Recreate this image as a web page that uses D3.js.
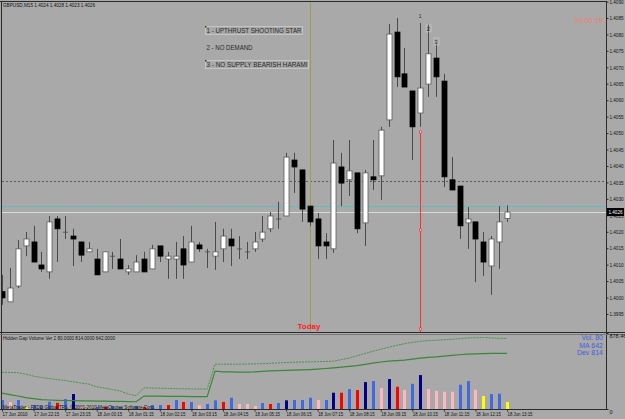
<!DOCTYPE html>
<html>
<head>
<meta charset="utf-8">
<script src="https://cdn.jsdelivr.net/npm/d3@7"></script>
<style>
body { margin: 0; background: #a9a9a9; }
svg { display: block; font-family: "Liberation Sans", Arial, sans-serif; }
</style>
</head>
<body>
<div id="chart"></div>
<script>
// GBPUSD M15, 17 Jun 21:15 -> 18 Jun 13:15 (65 bars)
var opens = [1.40018,1.39987,1.40035,1.40157,1.40169,1.40099,1.40078,1.40239,1.40199,1.40187,
  1.40169,1.40139,1.40117,1.40078,1.40126,1.40117,1.40078,1.40078,1.40117,1.40087,
  1.40157,1.40117,1.40117,1.40148,1.40108,1.40160,1.40139,1.40126,1.40148,1.40178,
  1.40148,1.40139,1.40148,1.40178,1.40209,1.40239,1.40248,1.40418,1.40388,1.40278,
  1.40239,1.40169,1.40148,1.40397,1.40358,1.40379,1.40227,1.40367,1.40370,1.40540,
  1.40807,1.40680,1.40628,1.40561,1.40649,1.40728,1.40658,1.40358,1.40339,1.40227,
  1.40230,1.40169,1.40096,1.40169,1.40240];
var highs = [1.40069,1.40090,1.40175,1.40199,1.40218,1.40139,1.40248,1.40248,1.40248,1.40209,
  1.40169,1.40169,1.40148,1.40139,1.40139,1.40178,1.40099,1.40129,1.40139,1.40160,
  1.40157,1.40139,1.40169,1.40187,1.40218,1.40169,1.40148,1.40230,1.40209,1.40209,
  1.40187,1.40169,1.40199,1.40248,1.40260,1.40291,1.40440,1.40440,1.40388,1.40278,
  1.40257,1.40196,1.40479,1.40440,1.40479,1.40379,1.40388,1.40479,1.40519,1.40832,
  1.40850,1.40759,1.40628,1.40835,1.40832,1.40771,1.40680,1.40427,1.40339,1.40275,
  1.40230,1.40199,1.40187,1.40278,1.40280];
var lows = [1.39978,1.39987,1.40029,1.40126,1.40108,1.40078,1.40057,1.40108,1.40178,1.40096,
  1.40108,1.40139,1.40069,1.40078,1.40087,1.40087,1.40069,1.40078,1.40078,1.40087,
  1.40108,1.40057,1.40057,1.40057,1.40108,1.40139,1.40090,1.40084,1.40108,1.40096,
  1.40117,1.40117,1.40139,1.40169,1.40199,1.40209,1.40248,1.40318,1.40230,1.40218,
  1.40117,1.40117,1.40136,1.40278,1.40309,1.40196,1.40157,1.40327,1.40297,1.40519,
  1.40640,1.40640,1.40418,1.40519,1.40610,1.40610,1.40336,1.40327,1.40178,1.40148,
  1.40047,1.40066,1.40008,1.40087,1.40230];
var closes = [1.39999,1.40029,1.40148,1.40178,1.40108,1.40087,1.40230,1.40209,1.40200,1.40178,
  1.40129,1.40148,1.40069,1.40139,1.40127,1.40087,1.40087,1.40108,1.40078,1.40148,
  1.40126,1.40126,1.40126,1.40099,1.40169,1.40148,1.40140,1.40139,1.40187,1.40157,
  1.40149,1.40140,1.40169,1.40199,1.40248,1.40240,1.40427,1.40397,1.40269,1.40230,
  1.40157,1.40157,1.40409,1.40348,1.40385,1.40209,1.40379,1.40358,1.40509,1.40801,
  1.40671,1.40640,1.40519,1.40637,1.40741,1.40671,1.40367,1.40327,1.40218,1.40239,
  1.40178,1.40108,1.40178,1.40230,1.40260];

var volumes = [104,80,104,20,46,35,84,72,115,173,23,12,23,23,35,23,12,35,23,46,
  46,46,104,81,81,42,58,100,81,130,58,58,35,69,58,69,100,104,104,130,
  104,104,188,188,230,219,311,323,242,346,257,219,291,392,230,211,199,199,280,323,
  222,150,173,177,80];
// B normal, P low, R high, N climax, Y lowest
var volTypes = ["B","P","B","Y","B","B","B","R","B","N","P","Y","B","R","B","B","P","B","R","B",
  "B","R","B","R","B","P","B","B","R","B","P","P","P","B","R","B","N","B","B","B",
  "P","B","N","R","B","R","N","B","P","N","R","P","B","N","P","P","P","P","B","B",
  "P","Y","B","B","Y"];
var volMA = [184,167,150,132,121,109,104,100,98,96,95,93,92,90,88,87,85,84,150,149,
  148,147,146,145,144,143,142,438,430,428,426,427,430,436,440,444,447,450,453,456,
  461,468,476,485,493,501,515,530,543,553,559,565,577,588,597,603,612,620,627,634,
  637,640,642,642,642];
var volDev = [423,423,420,403,380,363,352,340,330,315,300,288,257,242,225,207,173,155,245,242,
  240,238,236,234,232,231,230,518,518,518,518,520,522,524,528,533,537,540,543,545,
  547,550,553,570,588,615,642,667,691,714,735,755,770,783,790,795,800,806,813,821,
  824,826,821,817,814];

var priceTicks = d3.range(0, 20).map(function(i) { return +(1.4090 - i * 0.0005).toFixed(4); });
var timeTicks = d3.range(0, 65, 4);
var timeLabels = ["17 Jun 2010","17 Jun 22:15","17 Jun 23:15","18 Jun 00:15","18 Jun 01:15",
  "18 Jun 02:15","18 Jun 03:15","18 Jun 04:15","18 Jun 05:15","18 Jun 06:15","18 Jun 07:15",
  "18 Jun 08:15","18 Jun 09:15","18 Jun 10:15","18 Jun 11:15","18 Jun 12:15","18 Jun 13:15"];
var levelPrices = [1.40354, 1.40278, 1.40260];
var patternLabels = ["1 - UPTHRUST SHOOTING STAR", "2 - NO DEMAND", "3 - NO SUPPLY BEARISH HARAMI"];
var signalBars = [53, 54, 55];
var todayBar = 39;

var w = 625, h = 419;
var svg = d3.select("#chart").append("svg").attr("width", w).attr("height", h);
svg.append("rect").attr("width", w).attr("height", h).attr("fill", "#a9a9a9");

var x = d3.scaleLinear().domain([0, 64]).range([2, 507]);
var y = d3.scaleLinear().domain([1.3995, 1.4090]).range([314, 1.5]);
var yv = d3.scaleLinear().domain([0, 878.46]).range([409, 333]);
var volColor = d3.scaleOrdinal().domain(["B","P","R","N","Y"])
  .range(["#4169e1", "#ffb6c1", "#ff0000", "#00008b", "#ffff00"]);

svg.append("clipPath").attr("id", "main").append("rect")
  .attr("x", 2).attr("y", 2).attr("width", 604).attr("height", 330);
svg.append("clipPath").attr("id", "ind").append("rect")
  .attr("x", 2).attr("y", 335).attr("width", 604).attr("height", 74);

var main = svg.append("g").attr("clip-path", "url(#main)");

// horizontal levels
var levelStyle = [["#5a5a5a", "2,2"], ["#3cc8c8", "2,1"], ["#d8d8d8", null]];
levelPrices.forEach(function(p, i) {
  main.append("line")
    .attr("x1", 2).attr("x2", 606)
    .attr("y1", Math.round(y(p)) + 0.5).attr("y2", Math.round(y(p)) + 0.5)
    .attr("stroke", levelStyle[i][0])
    .attr("stroke-dasharray", levelStyle[i][1]);
});

// today separator
main.append("line")
  .attr("x1", Math.round(x(todayBar)) + 0.5).attr("x2", Math.round(x(todayBar)) + 0.5)
  .attr("y1", 2).attr("y2", 332).attr("stroke", "#9c9c4c");

// text boxes
var boxes = main.append("g");
var boxW = [97, 48, 103];
patternLabels.forEach(function(t, i) {
  var by = 26 + i * 17;
  if (i != 1) {
    boxes.append("rect").attr("x", 205.5).attr("y", by + 0.5)
      .attr("width", boxW[i]).attr("height", 8)
      .attr("fill", "none").attr("stroke", "#c4c4c4");
    boxes.append("rect").attr("x", 205).attr("y", by).attr("width", 1.5).attr("height", 1.5).attr("fill", "#333");
  }
  boxes.append("text").attr("x", 206.5).attr("y", by + 7)
    .attr("font-size", "7.5px").attr("fill", "#2a2a2a")
    .attr("textLength", boxW[i] - 2).attr("lengthAdjust", "spacingAndGlyphs")
    .text(t);
});

// red signal line
var rx = Math.round(x(signalBars[0])) + 0.5;
main.append("line").attr("x1", rx).attr("x2", rx).attr("y1", 132).attr("y2", 332)
  .attr("stroke", "#ff3030");
[132, 230, 329].forEach(function(py) {
  main.append("rect").attr("x", rx - 1).attr("y", py - 1).attr("width", 2).attr("height", 2)
    .attr("fill", "#fff").attr("stroke", "#ff3030").attr("stroke-width", 0.7);
});

// candles
var idx = d3.range(opens.length);
var candles = main.selectAll("g.candle").data(idx).enter().append("g").attr("class", "candle");
candles.append("line")
  .attr("x1", function(i) { return Math.round(x(i)) + 0.5; })
  .attr("x2", function(i) { return Math.round(x(i)) + 0.5; })
  .attr("y1", function(i) { return y(highs[i]); })
  .attr("y2", function(i) { return y(lows[i]); })
  .attr("stroke", "#4a4a4a");
candles.append("rect")
  .attr("x", function(i) { return Math.round(x(i)) - 2; })
  .attr("y", function(i) { return y(Math.max(opens[i], closes[i])); })
  .attr("width", 5)
  .attr("height", function(i) { return Math.max(0.8, Math.abs(y(opens[i]) - y(closes[i]))); })
  .attr("fill", function(i) {
    if (Math.abs(opens[i] - closes[i]) < 0.00003) return "#4a4a4a";
    return closes[i] > opens[i] ? "#ffffff" : "#000000";
  })
  .attr("stroke", function(i) {
    if (Math.abs(opens[i] - closes[i]) < 0.00003) return "none";
    return closes[i] > opens[i] ? "#5a5a5a" : "#000";
  })
  .attr("stroke-width", 0.8);

// signal numbers sit on the wick tops
var numShift = [-5, 7, 0];
signalBars.forEach(function(b, i) {
  var tx = x(b), ty = y(highs[b]) + numShift[i];
  if (i > 0) {
    main.append("rect").attr("x", tx - 2).attr("y", ty - 6).attr("width", 5).attr("height", 7)
      .attr("fill", "none").attr("stroke", "#c8c8c8").attr("stroke-width", 0.7);
  }
  main.append("text").attr("x", tx).attr("y", ty).attr("text-anchor", "middle")
    .attr("font-size", "6px").attr("fill", "#3a3a3a").text(i + 1);
});

main.append("text").attr("x", 309).attr("y", 329).attr("text-anchor", "middle")
  .attr("font-size", "8px").attr("font-weight", "bold").attr("fill", "#ff2020").text("Today");

// title and timer
svg.append("text").attr("x", 3).attr("y", 7).attr("font-size", "5.5px").attr("fill", "#111")
  .attr("textLength", 92).attr("lengthAdjust", "spacingAndGlyphs")
  .text("GBPUSD,M15  1.4024 1.4028 1.4023 1.4026");
svg.append("text").attr("x", 574).attr("y", 23).attr("font-size", "7px").attr("fill", "#f2806c")
  .attr("textLength", 29).attr("lengthAdjust", "spacingAndGlyphs").text("00:06:15");

// indicator panel
var ind = svg.append("g").attr("clip-path", "url(#ind)");
ind.selectAll("rect.vol").data(idx).enter().append("rect").attr("class", "vol")
  .attr("x", function(i) { return Math.round(x(i)) - 1; })
  .attr("y", function(i) { return yv(volumes[i]); })
  .attr("width", 3)
  .attr("height", function(i) { return yv(0) - yv(volumes[i]); })
  .attr("fill", function(i) { return volColor(volTypes[i]); });

var devLine = d3.line().x(function(d, i) { return x(i); }).y(function(d) { return yv(d); });
ind.append("path").attr("d", devLine(volDev)).attr("fill", "none")
  .attr("stroke", "#3f8f3f").attr("stroke-width", 0.9).attr("stroke-dasharray", "2,1");
ind.append("path").attr("d", devLine(volMA)).attr("fill", "none")
  .attr("stroke", "#3a863a").attr("stroke-width", 1.2);

svg.append("text").attr("x", 3).attr("y", 340).attr("font-size", "5.5px").attr("fill", "#111")
  .attr("textLength", 112).attr("lengthAdjust", "spacingAndGlyphs")
  .text("Hidden Gap Volume Ver 2 80.0000 814.0000 642.0000");
var info = ["Vol. " + volumes[64], "MA " + volMA[64], "Dev " + volDev[64]];
info.forEach(function(t, i) {
  svg.append("text").attr("x", 603).attr("y", 340 + i * 7.5).attr("text-anchor", "end")
    .attr("font-size", "7px").attr("fill", "#3f5fe0").text(t);
});
svg.append("text").attr("x", 3).attr("y", 408.5).attr("font-size", "5.5px").attr("fill", "#111")
  .attr("textLength", 152).attr("lengthAdjust", "spacingAndGlyphs")
  .text("MetaTrader - FXDD Global TFS, \u00a9 2001-2010 MetaQuotes Software Corp.");

// frame lines
var frame = svg.append("g").attr("stroke", "#2b2b2b");
frame.append("line").attr("x1", 0).attr("x2", 607).attr("y1", 1.5).attr("y2", 1.5);
frame.append("line").attr("x1", 1.5).attr("x2", 1.5).attr("y1", 1).attr("y2", 410);
frame.append("line").attr("x1", 606.5).attr("x2", 606.5).attr("y1", 1).attr("y2", 410);
frame.append("line").attr("x1", 0).attr("x2", 625).attr("y1", 332.5).attr("y2", 332.5);
frame.append("line").attr("x1", 0).attr("x2", 625).attr("y1", 334.5).attr("y2", 334.5).attr("stroke", "#777");
frame.append("line").attr("x1", 0).attr("x2", 607).attr("y1", 409.5).attr("y2", 409.5);

// price axis
var yAxis = d3.axisRight(y).tickValues(priceTicks).tickSize(2).tickPadding(1)
  .tickFormat(d3.format(".4f"));
var ga = svg.append("g").attr("transform", "translate(606.5,0)").call(yAxis);
ga.select(".domain").remove();
ga.selectAll("line").attr("stroke", "#2b2b2b");
ga.selectAll("text").attr("font-size", "5.5px").attr("fill", "#111")
  .attr("textLength", 14).attr("lengthAdjust", "spacingAndGlyphs");

// current price tag
var cp = closes[closes.length - 1];
svg.append("rect").attr("x", 607).attr("y", y(cp) - 4).attr("width", 17).attr("height", 8).attr("fill", "#000");
svg.append("text").attr("x", 608.5).attr("y", y(cp) + 2).attr("font-size", "5.5px").attr("fill", "#fff")
  .attr("textLength", 14).attr("lengthAdjust", "spacingAndGlyphs").text(d3.format(".4f")(cp));

// volume axis
var vAxis = d3.axisRight(yv).tickValues([0, 878.46]).tickSize(2).tickPadding(1)
  .tickFormat(function(d) { return d ? d3.format(".2f")(d) : "0"; });
var gv = svg.append("g").attr("transform", "translate(606.5,0)").call(vAxis);
gv.select(".domain").remove();
gv.selectAll("line").attr("stroke", "#2b2b2b");
gv.selectAll("text").attr("font-size", "5.5px").attr("fill", "#111").attr("dy", "0.9em");

// time axis
var xAxis = d3.axisBottom(x).tickValues(timeTicks).tickSize(2).tickPadding(1)
  .tickFormat(function(d, i) { return timeLabels[i]; });
var gx = svg.append("g").attr("transform", "translate(0,409.5)").call(xAxis);
gx.select(".domain").remove();
gx.selectAll("line").attr("stroke", "#2b2b2b");
gx.selectAll("text").attr("font-size", "5.5px").attr("fill", "#111")
  .attr("text-anchor", "start").attr("x", 0)
  .attr("textLength", 25).attr("lengthAdjust", "spacingAndGlyphs");
</script>
</body>
</html>
